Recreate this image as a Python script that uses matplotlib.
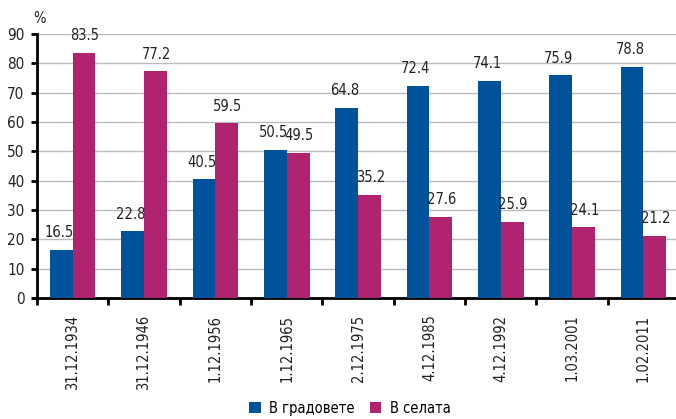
import matplotlib
matplotlib.use("Agg")
import matplotlib.pyplot as plt
import numpy as np

plt.rcParams['font.family'] = ['DejaVu Sans']
plt.rcParams['font.stretch'] = 'condensed'

categories = ["31.12.1934", "31.12.1946", "1.12.1956", "1.12.1965", "2.12.1975",
              "4.12.1985", "4.12.1992", "1.03.2001", "1.02.2011"]
urban = [16.5, 22.8, 40.5, 50.5, 64.8, 72.4, 74.1, 75.9, 78.8]
rural = [83.5, 77.2, 59.5, 49.5, 35.2, 27.6, 25.9, 24.1, 21.2]
series_names = ["В градовете", "В селата"]

blue = "#00529B"
magenta = "#B0246F"
txt = "#222222"
fs = 10.5

fig = plt.figure(figsize=(6.76, 4.19), dpi=100)
ax = fig.add_axes([0.0547, 0.289, 0.950, 0.630])

x = np.arange(len(categories))
w = 0.32
b1 = ax.bar(x - w/2, urban, w, color=blue, label=series_names[0], zorder=3)
b2 = ax.bar(x + w/2, rural, w, color=magenta, label=series_names[1], zorder=3)

for xi, v in zip(x, urban):
    ax.text(xi - w/2 - 0.03, v + 5.8, f"{v:.1f}", ha="center", va="center", fontsize=fs, color=txt)
for xi, v in zip(x, rural):
    ax.text(xi + w/2 + 0.01, v + 5.8, f"{v:.1f}", ha="center", va="center", fontsize=fs, color=txt)

ax.set_xlim(-0.5, len(categories) - 0.5)
ax.set_ylim(0, 90)
ax.set_yticks(range(0, 91, 10))
ax.yaxis.grid(True, color="#bbbbbb", linewidth=1, zorder=0)
ax.set_axisbelow(True)

ax.set_xticks(x)
ax.set_xticklabels(categories, rotation=90, fontsize=fs, color=txt)
ax.set_xticks(np.arange(-0.5, len(categories), 1), minor=True)
ax.tick_params(axis="x", which="major", length=0, pad=12)
ax.tick_params(axis="x", which="minor", length=5, width=2, direction="out")
ax.tick_params(axis="y", length=4, width=2, labelsize=11, labelcolor=txt, pad=5)

for s in ["top", "right"]:
    ax.spines[s].set_visible(False)
ax.spines["left"].set_linewidth(2)
ax.spines["bottom"].set_linewidth(2)

fig.text(0.059, 0.957, "%", fontsize=fs, color=txt, ha="center", va="center")

fig.legend(handles=[b1, b2], labels=series_names, loc="center",
           bbox_to_anchor=(350/676, 1 - 408/419), ncol=2, frameon=False, fontsize=fs,
           handlelength=0.8, handleheight=0.8, columnspacing=1.0, handletextpad=0.6,
           borderpad=0)

fig.savefig("out.png", dpi=100)
